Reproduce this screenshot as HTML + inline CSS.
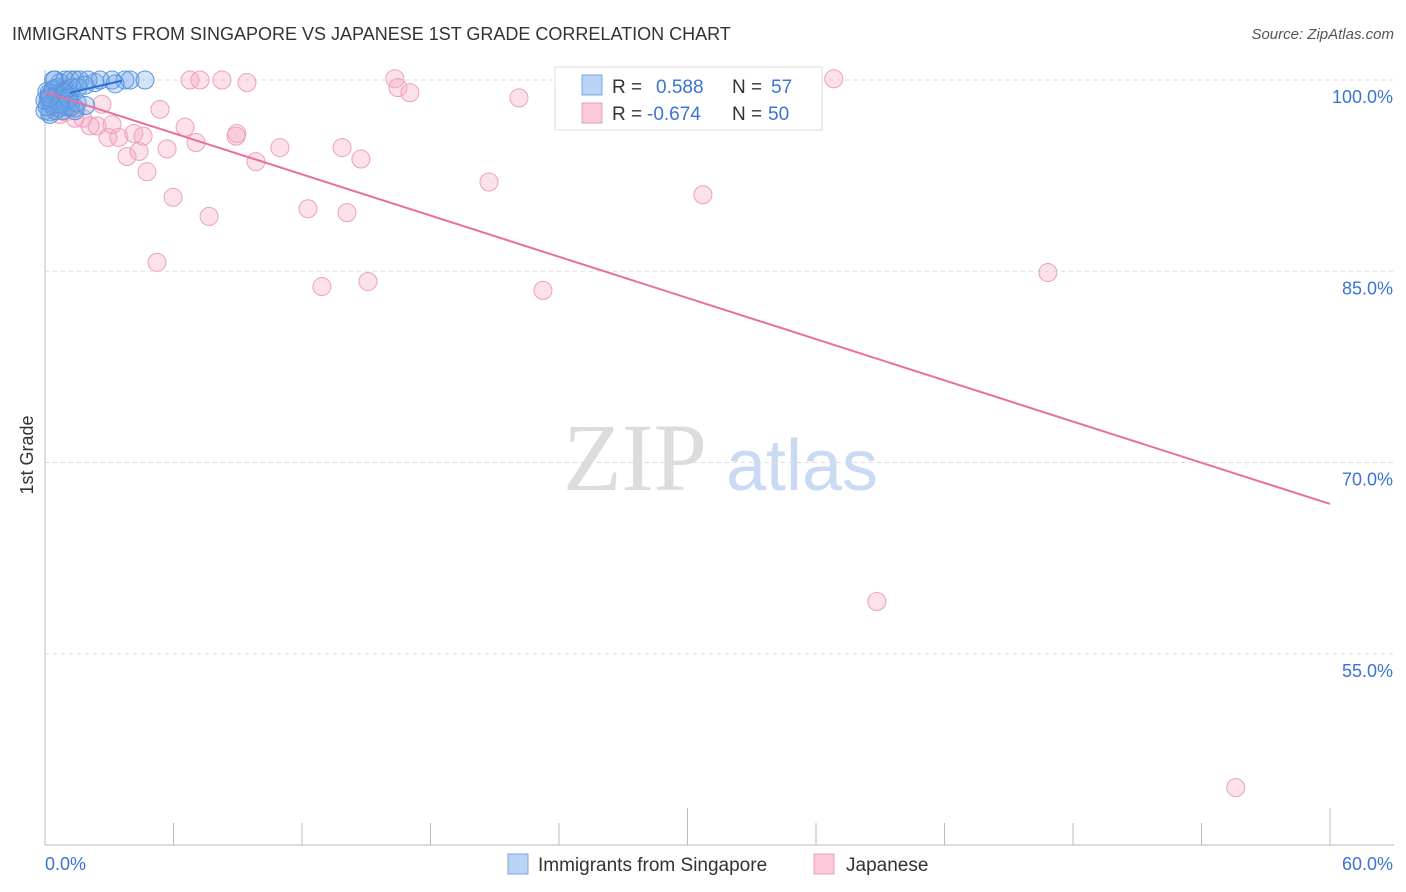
<!DOCTYPE html>
<html><head><meta charset="utf-8">
<style>
body{margin:0;background:#fff;font-family:"Liberation Sans",sans-serif;}
svg{display:block}
</style></head>
<body>
<svg id="chart" width="1406" height="892">
<text x="12" y="40" font-size="18" fill="#333">IMMIGRANTS FROM SINGAPORE VS JAPANESE 1ST GRADE CORRELATION CHART</text>
<text x="1394" y="39" font-size="15" fill="#555" text-anchor="end" font-style="italic">Source: ZipAtlas.com</text>
<text x="33" y="455" font-size="18" fill="#333" text-anchor="middle" transform="rotate(-90 33 455)">1st Grade</text>
<g>
<text x="635" y="490" font-size="96" fill="#dcdcdc" text-anchor="middle" font-family="Liberation Serif,serif">ZIP</text>
<text x="802" y="490" font-size="72" fill="#c9daf2" text-anchor="middle">atlas</text>
</g>
<g id="grid"></g><g id="axes"></g><g id="marks"></g>
<g>
<rect x="555" y="67" width="267" height="63" fill="#fff" stroke="#ddd"/>
<rect x="582" y="75" width="20" height="20" fill="#b8d4f5" stroke="#7aa8e0"/>
<text x="612" y="93" font-size="19" fill="#333">R = </text><text x="656" y="93" font-size="19" fill="#3a74d4">0.588</text>
<text x="732" y="93" font-size="19" fill="#333">N = </text><text x="771" y="93" font-size="19" fill="#3a74d4">57</text>
<rect x="582" y="103" width="20" height="20" fill="#fbc9d8" stroke="#e9a0b8"/>
<text x="612" y="120" font-size="19" fill="#333">R = </text><text x="647" y="120" font-size="19" fill="#3a74d4">-0.674</text>
<text x="732" y="120" font-size="19" fill="#333">N = </text><text x="768" y="120" font-size="19" fill="#3a74d4">50</text>
</g>
<g>
<rect x="508" y="854" width="20" height="20" fill="#b8d4f5" stroke="#7aa8e0"/>
<text x="538" y="871" font-size="19" fill="#333">Immigrants from Singapore</text>
<rect x="814" y="854" width="20" height="20" fill="#fbc9d8" stroke="#e9a0b8"/>
<text x="846" y="871" font-size="19" fill="#333">Japanese</text>
</g>
</svg>
<script>
const yTicks=[100,85,70,55];
const xTickLabels=["0.0%","60.0%"];
const blueX=[0.47,0.70,0.93,1.17,1.40,1.63,2.01,3.13,3.73,3.97,4.67,3.27,0.61,0.79,0.23,0.47,0.14,0.70,0.33,0.93,1.17,0,0.23,0.61,0.84,1.40,1.07,0.37,0.09,0.51,0.79,0.98,1.26,1.54,1.87,2.33,2.57,1.40,0.23,0,0.56,0.2,0.4,0.6,0.8,1.0,0.3,0.5,1.2,0.1,0.9,1.1,0.7,0.4,1.5,0.2,1.9];
const blueY=[100,99.8,100,100,100,100,100,100,100,100,100,99.7,99.4,99.1,98.8,98.6,98.4,98.4,98.0,98.2,98.8,97.6,97.5,97.8,97.6,97.8,98.4,99.2,99.1,98.8,98.7,99.2,99.4,99.4,99.6,99.8,100,97.6,97.3,98.4,98.3,99.0,99.3,98.9,98.5,97.9,98.2,97.6,97.9,97.9,99.0,98.6,98.1,100,98.2,98.6,98.0];
const pinkX=[36.83,16.34,6.77,7.24,8.26,9.43,16.48,17.04,22.13,5.37,2.66,6.54,8.96,8.92,2.94,3.45,4.15,4.58,1.77,2.43,3.13,3.83,4.39,5.70,7.05,10.97,13.87,14.75,9.85,4.76,20.73,30.72,5.98,12.28,14.10,7.66,5.23,12.93,15.08,23.25,46.83,38.84,55.60,0.93,1.40,2.10,0.47,0.23,0.70,1.17];
const pinkY=[100.1,100.1,100,100,100,99.8,99.4,99.0,98.6,97.7,98.1,96.3,95.8,95.6,95.5,95.5,95.8,95.6,97.0,96.4,96.5,94.0,94.4,94.6,95.1,94.7,94.7,93.8,93.6,92.8,92.0,91.0,90.8,89.9,89.6,89.3,85.7,83.8,84.2,83.5,84.9,59.1,44.5,97.5,97.0,96.4,97.8,98.4,97.3,98.0];
const blueTrend=[[1.17,99.0],[3.6,99.95]];
const pinkTrend=[[0,99.06],[60,66.75]];
const NS="http://www.w3.org/2000/svg";
const X0=45,X1=1330,Y0=80,Y1=845;
const sx=v=>X0+(v/60)*(X1-X0);
const sy=v=>Y0+(100-v)/60*(Y1-Y0);
function mk(tag,attrs,parent){const e=document.createElementNS(NS,tag);for(const k in attrs)e.setAttribute(k,attrs[k]);document.getElementById(parent).appendChild(e);return e;}
yTicks.forEach(t=>{
 const l=mk('line',{x1:X0,x2:1394,y1:sy(t),y2:sy(t),stroke:'#ddd','stroke-dasharray':'4 4'},'grid');
 
 
 const tx=mk('text',{x:1393,y:sy(t)+23,'font-size':18,fill:'#3a74d4','text-anchor':'end'},'axes');
 tx.textContent=t.toFixed(1)+'%';
 
 
});
let a=mk('line',{x1:X0,x2:X0,y1:70,y2:Y1,stroke:'#bbb'},'axes');


a=mk('line',{x1:X0,x2:1394,y1:Y1,y2:Y1,stroke:'#bbb'},'axes');


for(let i=0;i<=10;i++){
 const v=i*6;const tall=(i==5||i==10);
 const t=mk('line',{x1:sx(v),x2:sx(v),y1:tall?808:823,y2:Y1,stroke:'#bbb'},'axes');
 
 
}
xTickLabels.forEach((s,i)=>{
 const t=mk('text',{x:i?1393:45,y:870,'font-size':18,fill:'#3a74d4','text-anchor':i?'end':'start'},'axes');
 t.textContent=s;
 
 
});
pinkX.forEach((x,i)=>{
 const c=mk('circle',{cx:sx(x),cy:sy(pinkY[i]),r:9,fill:'rgba(246,170,195,0.35)',stroke:'#eaa2ba','stroke-width':1},'marks');
 
 
});
blueX.forEach((x,i)=>{
 const c=mk('circle',{cx:sx(x),cy:sy(blueY[i]),r:9,fill:'rgba(110,165,235,0.3)',stroke:'#5b93d9','stroke-width':1},'marks');
 
 
});
let tl=mk('line',{x1:sx(pinkTrend[0][0]),y1:sy(pinkTrend[0][1]),x2:sx(pinkTrend[1][0]),y2:sy(pinkTrend[1][1]),stroke:'#e8709a','stroke-width':2},'marks');


tl=mk('line',{x1:sx(blueTrend[0][0]),y1:sy(blueTrend[0][1]),x2:sx(blueTrend[1][0]),y2:sy(blueTrend[1][1]),stroke:'#2a6fdb','stroke-width':2},'marks');


</script>
</body></html>
